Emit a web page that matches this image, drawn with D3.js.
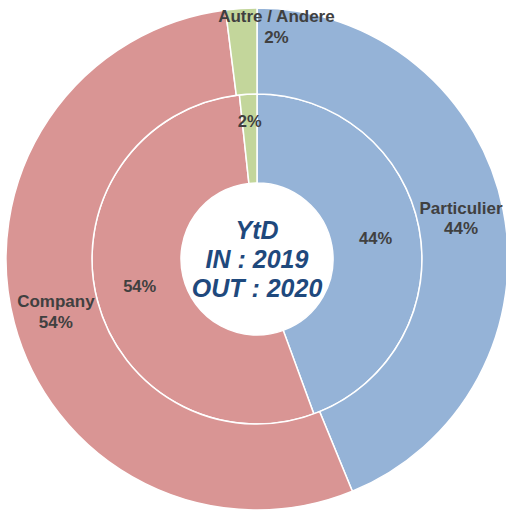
<!DOCTYPE html>
<html>
<head>
<meta charset="utf-8">
<script src="https://cdn.jsdelivr.net/npm/d3@7"></script>
<style>
  body { margin: 0; background: #fff; }
  svg text { font-family: "Liberation Sans", Arial, sans-serif; }
</style>
</head>
<body>
<svg id="chart"></svg>
<script>
const width = 506;
const height = 510;

// categories in drawing order (clockwise from 12 o'clock)
const categories = ['Particulier', 'Company', 'Autre / Andere'];
const colours = ['#95b3d7', '#d99594', '#c3d69b'];
// inner ring = IN 2019, outer ring = OUT 2020
const innerValues = [44.4, 53.9, 1.7];
const outerValues = [43.8, 54.2, 2.0];
const innerLabels = ['44%', '54%', '2%'];
const outerLabels = ['44%', '54%', '2%'];
const centreLines = ['YtD', 'IN : 2019', 'OUT : 2020'];

const cx = 257, cy = 259;
const rHole = 76, rMid = 165, rOuter = 251;

const svg = d3.select('#chart')
  .attr('width', width)
  .attr('height', height);

const g = svg.append('g').attr('transform', `translate(${cx},${cy})`);

const pie = d3.pie().sort(null).value(d => d.value);

const toRows = (vals, labels) => vals.map((v, i) => ({
  name: categories[i], value: v, label: labels[i], colour: colours[i]
}));

const innerArc = d3.arc().innerRadius(rHole).outerRadius(rMid);
const outerArc = d3.arc().innerRadius(rMid).outerRadius(rOuter);

const innerPie = pie(toRows(innerValues, innerLabels));
const outerPie = pie(toRows(outerValues, outerLabels));

g.selectAll('path.inner')
  .data(innerPie)
  .enter()
  .append('path')
  .attr('class', 'inner')
  .attr('d', innerArc)
  .attr('fill', d => d.data.colour)
  .attr('stroke', '#fff')
  .attr('stroke-width', 1.5);

g.selectAll('path.outer')
  .data(outerPie)
  .enter()
  .append('path')
  .attr('class', 'outer')
  .attr('d', outerArc)
  .attr('fill', d => d.data.colour)
  .attr('stroke', '#fff')
  .attr('stroke-width', 1.5);

// small slices get their label pushed out a bit
const smallInner = d3.arc().innerRadius(138).outerRadius(138);
const smallOuter = d3.arc().innerRadius(232).outerRadius(232);
const isSmall = d => (d.endAngle - d.startAngle) < 0.2;

const labelColour = '#404040';

g.selectAll('text.inner')
  .data(innerPie)
  .enter()
  .append('text')
  .attr('class', 'inner')
  .attr('transform', d => {
    const [x, y] = isSmall(d) ? smallInner.centroid(d) : innerArc.centroid(d);
    return `translate(${x},${y})`;
  })
  .attr('text-anchor', 'middle')
  .attr('dy', '0.35em')
  .style('font-size', '16.5px')
  .style('font-weight', 'bold')
  .style('fill', labelColour)
  .text(d => d.data.label);

const outerText = g.selectAll('text.outer')
  .data(outerPie)
  .enter()
  .append('text')
  .attr('class', 'outer')
  .attr('transform', d => {
    let [x, y] = isSmall(d) ? smallOuter.centroid(d) : outerArc.centroid(d);
    if (isSmall(d)) x += 34;
    return `translate(${x},${y})`;
  })
  .attr('text-anchor', 'middle')
  .style('font-size', '17px')
  .style('font-weight', 'bold')
  .style('fill', labelColour);

outerText.append('tspan')
  .attr('x', 0)
  .attr('dy', '-0.3em')
  .text(d => d.data.name);

outerText.append('tspan')
  .attr('x', 0)
  .attr('dy', '1.22em')
  .text(d => d.data.label);

// centre caption
g.append('text')
  .attr('text-anchor', 'middle')
  .style('font-size', '25px')
  .style('font-weight', 'bold')
  .style('font-style', 'italic')
  .style('fill', '#1f497d')
  .selectAll('tspan')
  .data(centreLines)
  .enter()
  .append('tspan')
  .attr('x', 0)
  .attr('y', (d, i) => (i - 1) * 29 + 9)
  .text(d => d);
</script>
</body>
</html>
